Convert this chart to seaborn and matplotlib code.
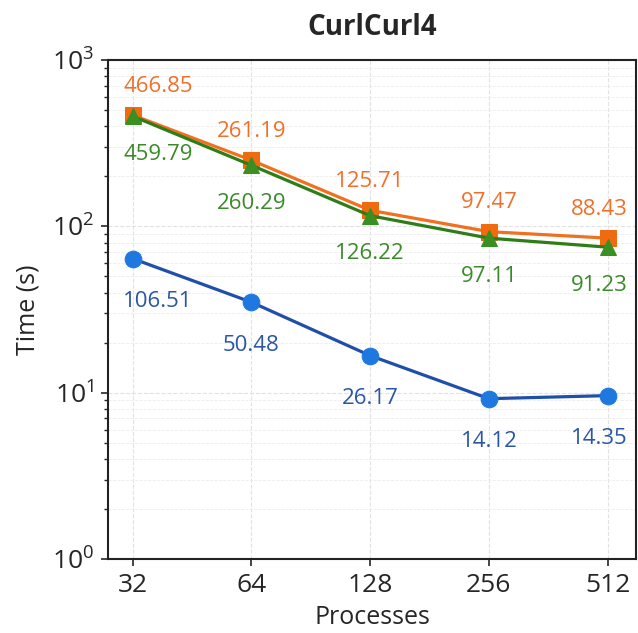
import numpy as np
import pandas as pd
import matplotlib
matplotlib.use("Agg")
import matplotlib.pyplot as plt
import seaborn as sns
from matplotlib.ticker import FixedLocator, NullFormatter, LogLocator

# ---- data ----
processes = [32, 64, 128, 256, 512]
# plotted
blue_vals = [64, 35, 16.7, 9.2, 9.6]
orange_vals = [467, 250, 125, 93, 85]
green_vals = [460, 233, 116, 85, 75]
# annotation texts
blue_labels = ["106.51", "50.48", "26.17", "14.12", "14.35"]
orange_labels = ["466.85", "261.19", "125.71", "97.47", "88.43"]
green_labels = ["459.79", "260.29", "126.22", "97.11", "91.23"]
series_names = ["blue", "orange", "green"]

sns.set_style("white")
plt.rcParams['font.family'] = ['Open Sans', 'DejaVu Sans']

fig = plt.figure(figsize=(6.38, 6.33), dpi=100)
ax = fig.add_axes([0.169, 0.117, 0.828, 0.788])

df = pd.DataFrame({
    "Processes": processes * 3,
    "Time": blue_vals + orange_vals + green_vals,
    "series": sum([[s] * 5 for s in series_names], []),
})

styles = {
    "blue": dict(line="#1f4fa8", marker="#1f78e0", m="o", ms=12, text="#2a55a8"),
    "orange": dict(line="#f07020", marker="#f06a10", m="s", ms=11, text="#f0702a"),
    "green": dict(line="#2f7d18", marker="#3a8f22", m="^", ms=11, text="#3a8a2a"),
}

for s in ["blue", "orange", "green"]:
    st = styles[s]
    sub = df[df.series == s]
    sns.lineplot(data=sub, x="Processes", y="Time", ax=ax, color=st["line"],
                 linewidth=2.3, marker=st["m"], markersize=st["ms"],
                 markerfacecolor=st["marker"], markeredgecolor=st["marker"],
                 legend=False, zorder=3)

def annotate(vals, labels, color, dy):
    for i, (x, v, lab) in enumerate(zip(processes, vals, labels)):
        dx = 0
        if i == 0:
            dx = 25
        elif i == len(processes) - 1:
            dx = -8
        ax.annotate(lab, (x, v), xytext=(dx, dy), textcoords="offset pixels",
                    ha="center", va="center", color=color, fontsize=16)

annotate(orange_vals, orange_labels, styles["orange"]["text"], 29)
annotate(green_vals, green_labels, styles["green"]["text"], -38)
annotate(blue_vals, blue_labels, styles["blue"]["text"], -43)

ax.set_xscale("log", base=2)
ax.set_yscale("log")
ax.set_xlim(32 * 2 ** -0.21, 512 * 2 ** 0.24)
ax.set_ylim(1, 1000)
ax.xaxis.set_major_locator(FixedLocator(processes))
ax.xaxis.set_minor_locator(FixedLocator([]))
ax.set_xticklabels([str(p) for p in processes])
ax.yaxis.set_major_locator(LogLocator(base=10, numticks=10))
ax.yaxis.set_minor_locator(LogLocator(base=10, subs=np.arange(2, 10), numticks=10))
ax.yaxis.set_minor_formatter(NullFormatter())

ax.grid(True, which="major", color="#e2e2e2", linestyle="--", linewidth=0.8)
ax.grid(True, which="minor", axis="y", color="#ececec", linestyle="--", linewidth=0.6)
ax.set_axisbelow(True)

for sp in ax.spines.values():
    sp.set_color("#222222")
    sp.set_linewidth(1.5)
ax.tick_params(axis="both", which="major", direction="out", length=5, width=1.2,
               labelsize=19, left=True, bottom=True, pad=5)
ax.tick_params(axis="y", which="minor", direction="out", length=3, width=1.0, left=True)

ax.set_xlabel("Processes", fontsize=18, labelpad=5)
ax.set_ylabel("Time (s)", fontsize=18, labelpad=8)
ax.set_title("CurlCurl4", fontsize=20, fontweight="bold", pad=18)

fig.savefig("out.png", dpi=100)
